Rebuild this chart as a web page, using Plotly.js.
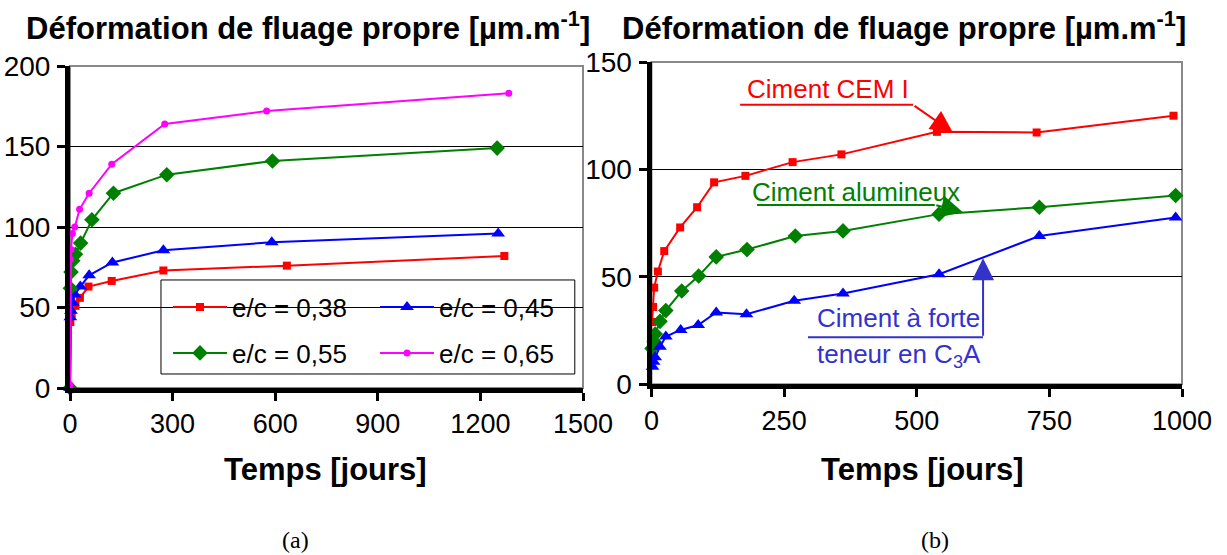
<!DOCTYPE html>
<html>
<head>
<meta charset="utf-8">
<script src="https://cdn.plot.ly/plotly-3.0.1.min.js"></script>
<style>html,body{margin:0;padding:0;background:#fff;}#chart{width:1227px;height:555px;}</style>
</head>
<body>
<div id="chart"></div>
<script>
// ---------- Data: chart (a) — e/c series ----------
const tA_038 = [0, 1, 5, 16, 29, 54, 122, 273, 634, 1270];
const vA_038 = [0, 41, 46, 51, 56, 63, 66.5, 73, 76, 82];
const tA_045 = [0, 1, 3, 8, 14, 30, 56, 124, 273, 590, 1252];
const vA_045 = [0, 44, 48, 53, 58, 63, 70, 78, 85.5, 90.5, 96];
const tA_055 = [0, 1, 3, 8, 16, 31, 64, 127, 283, 592, 1249];
const vA_055 = [0, 62, 72, 79, 83, 90, 104.5, 121, 132.5, 141, 149];
const tA_065 = [0, 1, 3, 7, 14, 28, 56, 122, 277, 575, 1283];
const vA_065 = [2, 80, 86, 96, 100, 111, 121, 139, 164, 172, 183];
const namesA = ["e/c = 0,38", "e/c = 0,45", "e/c = 0,55", "e/c = 0,65"];

// ---------- Data: chart (b) — cement types ----------
const tB_cem = [1, 3, 5, 12, 24, 54, 86, 118, 177, 266, 358, 538, 726, 984];
const vB_cem = [29, 36, 45, 52.5, 62, 73, 82.4, 94, 97, 103.4, 107, 117.5, 117.2, 125];
const tB_alu = [1, 5, 7, 16, 27, 57, 89, 122, 180, 271, 361, 542, 731, 988];
const vB_alu = [16.7, 19.8, 23.4, 29.3, 34.3, 43.4, 50.4, 59.3, 62.7, 69, 71.4, 79.2, 82.4, 87.9];
const tB_c3a = [2, 4, 7, 16, 27, 55, 88, 122, 179, 269, 361, 542, 731, 988];
const vB_c3a = [8.2, 10.5, 12.6, 17.5, 22.2, 25.3, 27.6, 33.4, 32.6, 38.9, 42.3, 51.2, 69, 77.6];

const ticksA_x = [0, 300, 600, 900, 1200, 1500];
const ticksA_y = [0, 50, 100, 150, 200];
const ticksB_x = [0, 250, 500, 750, 1000];
const ticksB_y = [0, 50, 100, 150];

const titleText = "Déformation de fluage propre [µm.m<sup>-1</sup>]";
const xTitleText = "Temps [jours]";

const F = "Arial, 'Liberation Sans', sans-serif";
const RED = "#ff0000", BLUE = "#0000ff", GREEN = "#008000", PINK = "#ff00ff", ABLUE = "#3333cc";

function tr(x, y, name, color, symbol, size, xa, ya, legend, show) {
  return {
    x: x, y: y, name: name, type: "scatter", mode: "lines+markers",
    xaxis: xa, yaxis: ya, legend: legend, showlegend: show, cliponaxis: false,
    line: {color: color, width: 2},
    marker: {color: color, symbol: symbol, size: size, line: {width: 0}},
    hoverinfo: "skip"
  };
}

const data = [
  tr(tA_038, vA_038, namesA[0], RED, "square", 8, "x", "y", "legend", true),
  tr(tA_045, vA_045, namesA[1], BLUE, "triangle-up", 12, "x", "y", "legend2", true),
  tr(tA_055, vA_055, namesA[2], GREEN, "diamond", 12, "x", "y", "legend3", true),
  tr(tA_065, vA_065, namesA[3], PINK, "circle", 7, "x", "y", "legend4", true),
  tr(tB_cem, vB_cem, "Ciment CEM I", RED, "square", 8, "x2", "y2", "legend", false),
  tr(tB_alu, vB_alu, "Ciment alumineux", GREEN, "diamond", 12, "x2", "y2", "legend", false),
  tr(tB_c3a, vB_c3a, "Ciment à forte teneur en C3A", BLUE, "triangle-up", 12, "x2", "y2", "legend", false)
];

function xax(domain, range, ticks) {
  return {
    domain: domain, range: range, tickvals: ticks, ticktext: ticks.map(String),
    showline: true, linecolor: "#000", linewidth: 5,
    ticks: "outside", ticklen: 8, tickwidth: 3, tickcolor: "#000",
    showgrid: false, zeroline: false, automargin: false, fixedrange: true,
    tickfont: {family: F, size: 27, color: "#000"}, ticklabelstandoff: 0
  };
}
function yax(domain, range, ticks) {
  return {
    domain: domain, range: range, tickvals: ticks, ticktext: ticks.map(String),
    showline: true, linecolor: "#000", linewidth: 5,
    ticks: "outside", ticklen: 8, tickwidth: 3, tickcolor: "#000",
    showgrid: true, gridcolor: "#000", gridwidth: 1, zeroline: false, automargin: false, fixedrange: true,
    tickfont: {family: F, size: 28, color: "#000"}, ticklabelstandoff: 1
  };
}

function legendAt(xpx, ypx) {
  return {x: xpx / 1227, y: 1 - ypx / 555, xanchor: "left", yanchor: "middle",
          bgcolor: "rgba(0,0,0,0)", borderwidth: 0, itemwidth: 54,
          font: {family: F, size: 26, color: "#000"}};
}

const layout = {
  width: 1227, height: 555,
  margin: {l: 0, r: 0, t: 0, b: 0},
  paper_bgcolor: "#fff", plot_bgcolor: "rgba(0,0,0,0)",
  xaxis: xax([70 / 1227, 583 / 1227], [0, 1500], ticksA_x),
  yaxis: yax([(555 - 388) / 555, (555 - 66) / 555], [0, 200], ticksA_y),
  xaxis2: Object.assign(xax([651.5 / 1227, 1182 / 1227], [0, 1000], ticksB_x), {anchor: "y2"}),
  yaxis2: Object.assign(yax([(555 - 384.3) / 555, (555 - 62) / 555], [0, 150], ticksB_y), {anchor: "x2"}),
  legend: legendAt(168, 307),
  legend2: legendAt(375, 307),
  legend3: legendAt(168, 353),
  legend4: legendAt(375, 353),
  shapes: [
    // plot frames (grey)
    {type: "rect", xref: "x domain", yref: "y domain", x0: 0, x1: 1, y0: 0, y1: 1, line: {color: "#888", width: 2}, layer: "below"},
    {type: "rect", xref: "x2 domain", yref: "y2 domain", x0: 0, x1: 1, y0: 0, y1: 1, line: {color: "#888", width: 2}, layer: "below"},
    // legend box
    {type: "rect", xref: "x", yref: "y", x0: 266, x1: 1476, y0: 8.7, y1: 67.1, fillcolor: "#fff", line: {color: "#000", width: 1}, layer: "below"},
    // annotation leader lines (b)
    {type: "line", xref: "x2", yref: "y2", x0: 167, x1: 493, y0: 130.1, y1: 130.1, line: {color: RED, width: 2}},
    {type: "line", xref: "x2", yref: "y2", x0: 199, x1: 534, y0: 83.5, y1: 83.5, line: {color: GREEN, width: 2}},
    {type: "line", xref: "x2", yref: "y2", x0: 295, x1: 625, y0: 21.9, y1: 21.9, line: {color: ABLUE, width: 2}}
  ],
  annotations: [
    {xref: "paper", yref: "paper", x: 24 / 1227, y: 1 - 26 / 555, xanchor: "left", yanchor: "middle", showarrow: false,
     text: "<b>" + titleText + "</b>", font: {family: F, size: 31, color: "#000"}},
    {xref: "paper", yref: "paper", x: 620 / 1227, y: 1 - 26 / 555, xanchor: "left", yanchor: "middle", showarrow: false,
     text: "<b>" + titleText + "</b>", font: {family: F, size: 31, color: "#000"}},
    {xref: "paper", yref: "paper", x: 325 / 1227, y: 1 - 469 / 555, xanchor: "center", yanchor: "middle", showarrow: false,
     text: "<b>" + xTitleText + "</b>", font: {family: F, size: 31, color: "#000"}},
    {xref: "paper", yref: "paper", x: 922 / 1227, y: 1 - 469 / 555, xanchor: "center", yanchor: "middle", showarrow: false,
     text: "<b>" + xTitleText + "</b>", font: {family: F, size: 31, color: "#000"}},
    {xref: "paper", yref: "paper", x: 295 / 1227, y: 1 - 540 / 555, xanchor: "center", yanchor: "middle", showarrow: false,
     text: "(a)", font: {family: "'Liberation Serif', 'Times New Roman', serif", size: 24, color: "#000"}},
    {xref: "paper", yref: "paper", x: 935 / 1227, y: 1 - 540 / 555, xanchor: "center", yanchor: "middle", showarrow: false,
     text: "(b)", font: {family: "'Liberation Serif', 'Times New Roman', serif", size: 24, color: "#000"}},
    // series labels (b)
    {xref: "x2", yref: "y2", x: 332, y: 137.5, showarrow: false, text: "Ciment CEM I", font: {family: F, size: 26, color: RED}},
    {xref: "x2", yref: "y2", x: 385, y: 89.7, showarrow: false, text: "Ciment alumineux", font: {family: F, size: 26, color: GREEN}},
    {xref: "x2", yref: "y2", x: 466, y: 30.9, showarrow: false, text: "Ciment à forte", font: {family: F, size: 26, color: ABLUE}},
    {xref: "x2", yref: "y2", x: 466, y: 13.6, showarrow: false, text: "teneur en C<sub>3</sub>A", font: {family: F, size: 26, color: ABLUE}},
    // arrows
    {xref: "x2", yref: "y2", axref: "x2", ayref: "y2", x: 568, y: 117.2, ax: 493, ay: 130.1, text: "", showarrow: true,
     arrowhead: 2, arrowsize: 2.2, arrowwidth: 2, arrowcolor: RED, standoff: 0, startstandoff: 0},
    {xref: "x2", yref: "y2", axref: "x2", ayref: "y2", x: 587, y: 80.1, ax: 534, ay: 83.5, text: "", showarrow: true,
     arrowhead: 2, arrowsize: 2.2, arrowwidth: 2, arrowcolor: GREEN, standoff: 0, startstandoff: 0},
    {xref: "x2", yref: "y2", axref: "x2", ayref: "y2", x: 625, y: 58.7, ax: 625, ay: 21.9, text: "", showarrow: true,
     arrowhead: 2, arrowsize: 2.2, arrowwidth: 2, arrowcolor: ABLUE, standoff: 0, startstandoff: 0}
  ]
};

Plotly.newPlot("chart", data, layout, {displayModeBar: false, staticPlot: true});
</script>
</body>
</html>
